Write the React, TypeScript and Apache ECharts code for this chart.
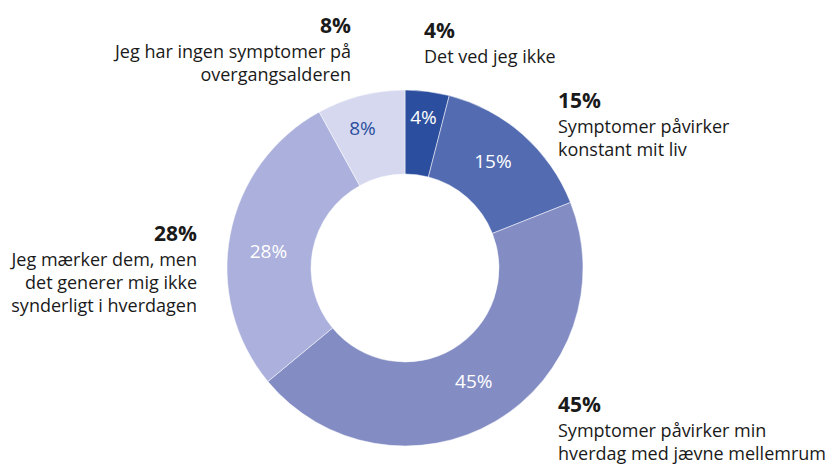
import React, { useEffect, useRef } from "react";
import * as echarts from "echarts";

const categories = [
  "Det ved jeg ikke",
  "Symptomer påvirker\nkonstant mit liv",
  "Symptomer påvirker min\nhverdag med jævne mellemrum",
  "Jeg mærker dem, men\ndet generer mig ikke\nsynderligt i hverdagen",
  "Jeg har ingen symptomer på\novergangsalderen",
];
const values = [4, 15, 45, 28, 8];
const colors = ["#2b4f9e", "#536bb1", "#838dc4", "#abb0dc", "#d5d8ee"];
const innerLabelColors = ["#ffffff", "#ffffff", "#ffffff", "#ffffff", "#2b4f9e"];

// label placement (annotation positions)
const outerLabelPos: { x: number; y: number; align: string }[] = [
  { x: 424, y: 16, align: "left" },
  { x: 558, y: 86, align: "left" },
  { x: 558, y: 390, align: "left" },
  { x: 197, y: 219, align: "right" },
  { x: 351, y: 11, align: "right" },
];
const innerLabelOffset: [number, number][] = [
  [1, -13],
  [-4, -3],
  [-2, -7],
  [0, 9],
  [-8, -5],
];

const FONT = "'Open Sans', 'Noto Sans', sans-serif";

export default function App() {
  const ref = useRef<HTMLDivElement>(null);
  useEffect(() => {
    if (!ref.current) return;
    const chart = echarts.init(ref.current, undefined, { renderer: "svg" });
    const data = values.map((v, i) => ({
      value: v,
      name: categories[i],
      itemStyle: { color: colors[i] },
      label: { color: innerLabelColors[i] },
    }));
    chart.setOption({
      animation: false,
      backgroundColor: "#ffffff",
      series: [
        {
          type: "pie",
          center: [405, 268],
          radius: [94, 178],
          startAngle: 90,
          clockwise: true,
          silent: true,
          itemStyle: { borderColor: "#ffffff", borderWidth: 0.5 },
          label: {
            show: true,
            position: "inside",
            formatter: "{c}%",
            fontFamily: FONT,
            fontSize: 19,
            fontWeight: "normal",
          },
          labelLine: { show: false },
          labelLayout: (p: any) => ({
            dx: innerLabelOffset[p.dataIndex][0],
            dy: innerLabelOffset[p.dataIndex][1],
          }),
          data,
        },
        {
          type: "pie",
          center: [405, 268],
          radius: [94, 178],
          startAngle: 90,
          clockwise: true,
          silent: true,
          z: 1,
          itemStyle: { color: "rgba(0,0,0,0)", borderWidth: 0 },
          emphasis: { disabled: true },
          label: {
            show: true,
            position: "outside",
            overflow: "none",
            width: 400,
            edgeDistance: 0,
            bleedMargin: 0,
            formatter: (p: any) => `{p|${p.value}%}\n{t|${p.name}}`,
            fontFamily: FONT,
            color: "#1a1a1a",
            rich: {
              p: { fontFamily: FONT, fontSize: 21, fontWeight: "bold", lineHeight: 28, color: "#1a1a1a" },
              t: { fontFamily: FONT, fontSize: 18, lineHeight: 23, color: "#1a1a1a" },
            },
          },
          labelLine: { show: false },
          labelLayout: (p: any) => {
            const pos = outerLabelPos[p.dataIndex];
            return { x: pos.x, y: pos.y, align: pos.align, verticalAlign: "top" };
          },
          data: values.map((v, i) => ({
            value: v,
            name: categories[i],
            label: {
              align: outerLabelPos[i].align,
              rich: {
                p: { align: outerLabelPos[i].align },
                t: { align: outerLabelPos[i].align },
              },
            },
          })),
        },
      ],
    });
    return () => chart.dispose();
  }, []);
  return (
    <div
      ref={ref}
      style={{ position: "absolute", left: 0, top: 0, width: 830, height: 464 }}
    />
  );
}
